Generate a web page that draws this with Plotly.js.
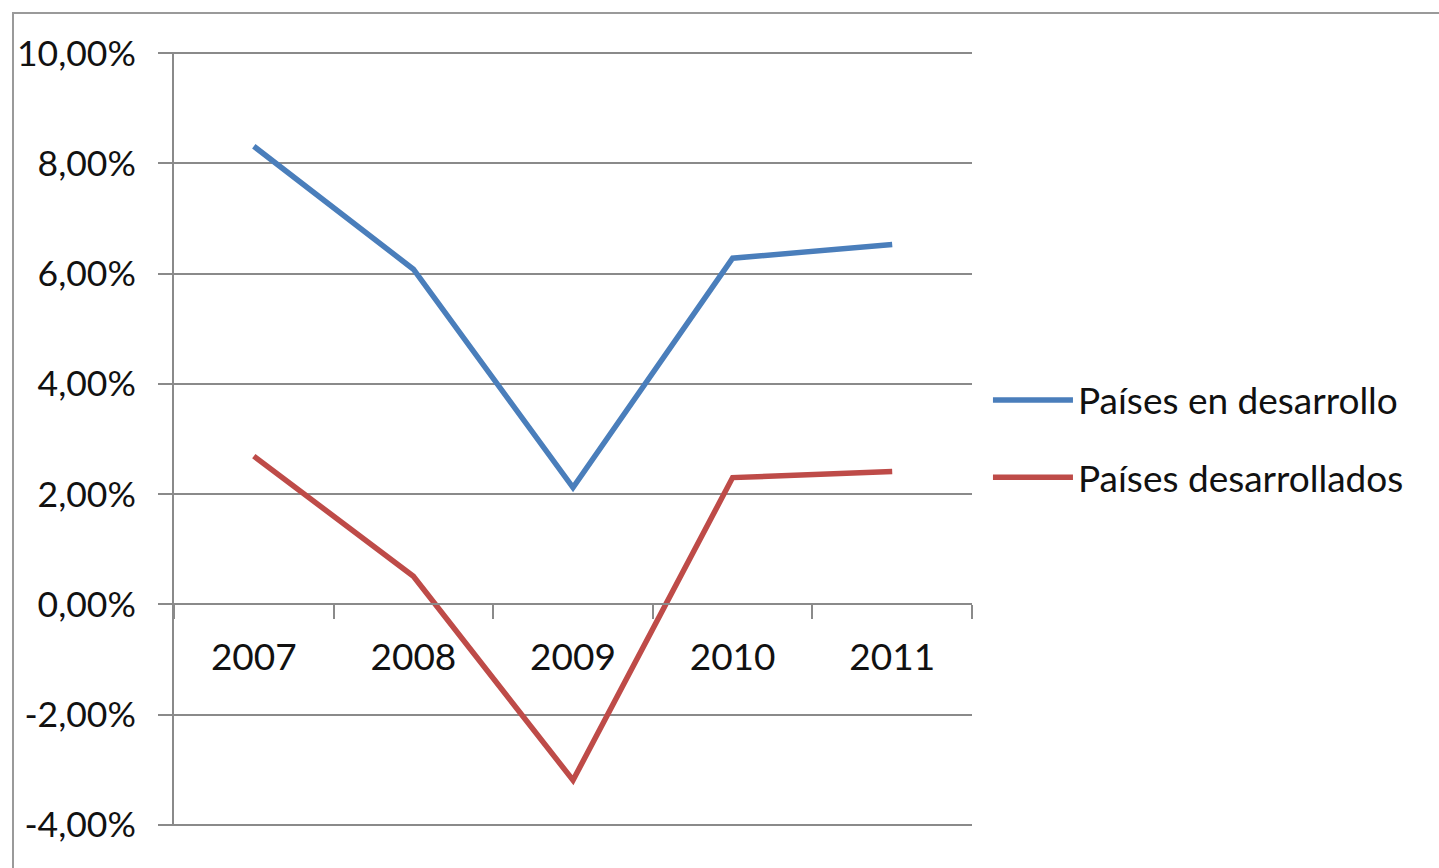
<!DOCTYPE html>
<html>
<head>
<meta charset="utf-8">
<script src="https://cdn.plot.ly/plotly-3.0.1.min.js"></script>
<style>
html,body{margin:0;padding:0;background:#fff;}
#chart{width:1439px;height:868px;position:absolute;left:0;top:0;}
#frame{position:absolute;left:12px;top:12px;width:1500px;height:900px;border-top:2px solid #9a9a9a;border-left:2px solid #9a9a9a;pointer-events:none;}
</style>
</head>
<body>
<div id="chart"></div>
<div id="frame"></div>
<script>
var years = ['2007', '2008', '2009', '2010', '2011'];
var developing = [8.31, 6.08, 2.12, 6.28, 6.53];
var developed = [2.69, 0.51, -3.19, 2.30, 2.41];
var seriesNames = ['Países en desarrollo', 'Países desarrollados'];
var yTickVals = [-4, -2, 0, 2, 4, 6, 8, 10];
var yTickText = ['-4,00%', '-2,00%', '0,00%', '2,00%', '4,00%', '6,00%', '8,00%', '10,00%'];

var font = 'Lato, "Open Sans", sans-serif';
var yMin = -4.02, yMax = 10.02;
var traces = [
  {x: years, y: developing, name: seriesNames[0], type: 'scatter', mode: 'lines',
   line: {color: '#4A7EBB', width: 5.5}, legendgroup: 'a'},
  {x: years, y: developed, name: seriesNames[1], type: 'scatter', mode: 'lines',
   line: {color: '#BE4B48', width: 5.5}, legendgroup: 'b'}
];
var layout = {
  width: 1439, height: 868,
  margin: {l: 174, r: 467, t: 52, b: 42, pad: 0},
  paper_bgcolor: 'rgba(0,0,0,0)', plot_bgcolor: 'rgba(0,0,0,0)',
  font: {family: font, size: 36, color: '#111'},
  showlegend: true,
  legend: {x: 1.02, xanchor: 'left', y: 0.5, yanchor: 'middle',
    traceorder: 'grouped', tracegroupgap: 26, itemwidth: 80,
    font: {family: font, size: 37, color: '#111'}, bgcolor: 'rgba(0,0,0,0)'},
  xaxis: {type: 'category', range: [-0.5, 4.5], anchor: 'free', position: (0 - yMin) / (yMax - yMin),
    showline: true, linecolor: '#8a8a8a', linewidth: 2,
    ticks: 'outside', tickson: 'boundaries', ticklen: 14, tickcolor: '#8a8a8a', tickwidth: 2,
    showgrid: false, zeroline: false, ticklabelstandoff: 20,
    tickfont: {family: font, size: 37, color: '#111'}},
  yaxis: {range: [yMin, yMax], tickvals: yTickVals, ticktext: yTickText,
    showline: true, linecolor: '#8a8a8a', linewidth: 2,
    ticks: 'outside', ticklen: 14, tickcolor: '#8a8a8a', tickwidth: 2,
    showgrid: true, gridcolor: '#8a8a8a', gridwidth: 2, zeroline: false,
    ticklabelstandoff: 15,
    tickfont: {family: font, size: 35.5, color: '#111'}}
};
Plotly.newPlot('chart', traces, layout, {displayModeBar: false, staticPlot: true});
</script>
</body>
</html>
